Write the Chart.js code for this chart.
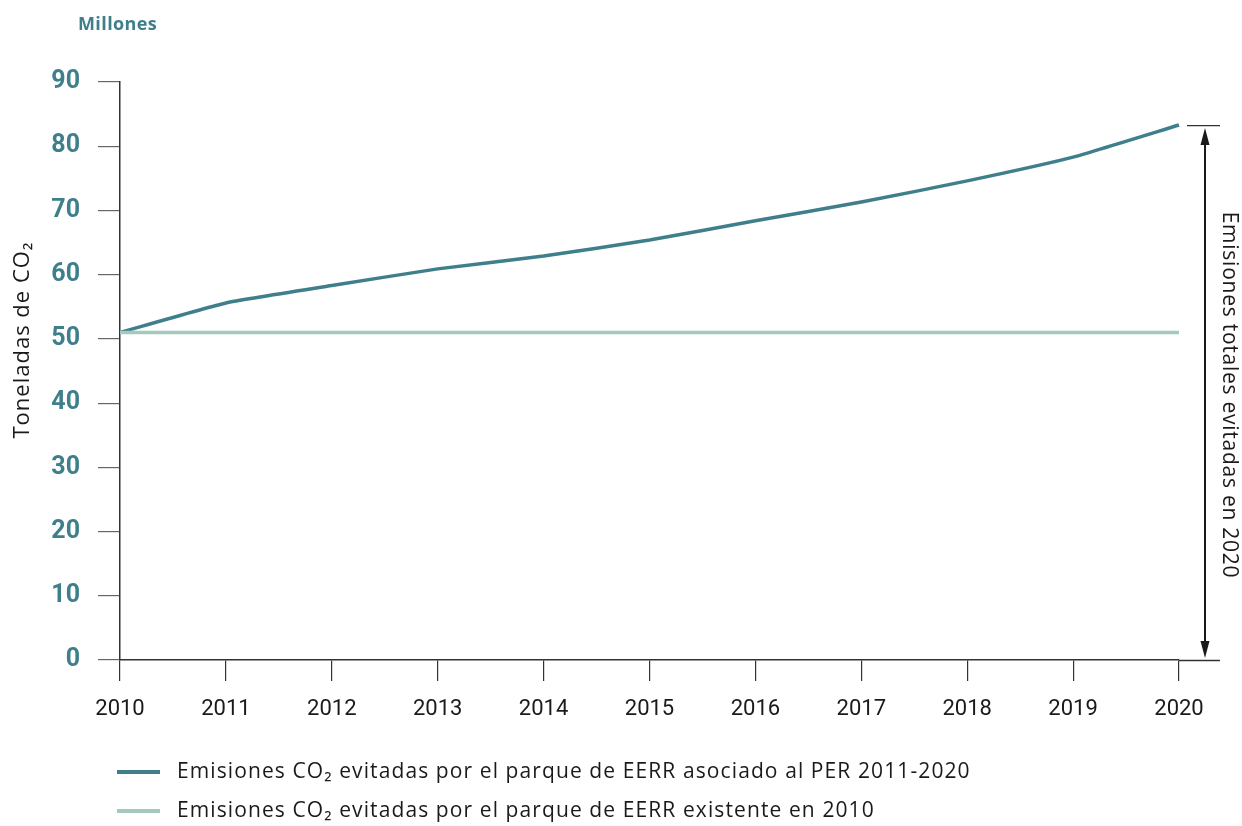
<!DOCTYPE html>
<html>
<head>
<meta charset="utf-8">
<script src="https://cdn.jsdelivr.net/npm/chart.js@4.4.1/dist/chart.umd.min.js"></script>
<style>
  html, body { margin: 0; padding: 0; background: #fff; }
  #wrap { width: 1242px; height: 826px; position: relative; }
</style>
</head>
<body>
<div id="wrap"><canvas id="c" width="1242" height="826"></canvas></div>
<script>
// data
const years = ["2010", "2011", "2012", "2013", "2014", "2015", "2016", "2017", "2018", "2019", "2020"];
const perValues = [51.0, 55.6, 58.3, 60.9, 62.9, 65.4, 68.4, 71.3, 74.6, 78.3, 83.3];
const baseValues = [51, 51, 51, 51, 51, 51, 51, 51, 51, 51, 51];
const seriesLabels = [
  "Emisiones CO\u2082 evitadas por el parque de EERR asociado al PER 2011-2020",
  "Emisiones CO\u2082 evitadas por el parque de EERR existente en 2010"
];
const yUnit = "Millones";
const yTitle = "Toneladas de CO\u2082";
const arrowLabel = "Emisiones totales evitadas en 2020";

const TEAL = "#3e7f8b";
const LIGHT = "#a4cabd";
const FONT = "Roboto, 'Open Sans', sans-serif";
const TFONT = "'Open Sans', Roboto, sans-serif";

// extras: unit label, y title, right-hand arrow, legend, x axis extension
const extras = {
  id: "extras",
  afterDraw(chart) {
    const { ctx, chartArea: a, scales } = chart;
    const y = scales.y;
    ctx.save();

    // unit label
    ctx.fillStyle = TEAL;
    ctx.font = "bold 18px " + TFONT;
    ctx.letterSpacing = "0.4px";
    ctx.textAlign = "left";
    ctx.textBaseline = "alphabetic";
    ctx.fillText(yUnit, 78, 30);

    // y title
    ctx.save();
    ctx.translate(23, 340);
    ctx.rotate(-Math.PI / 2);
    ctx.fillStyle = "#1a1a1a";
    ctx.font = "22px " + TFONT;
    ctx.letterSpacing = "1px";
    ctx.textAlign = "center";
    ctx.textBaseline = "middle";
    ctx.fillText(yTitle, 0, 0);
    ctx.restore();

    // x axis line extension
    ctx.strokeStyle = "#333";
    ctx.lineWidth = 1.5;
    ctx.beginPath();
    ctx.moveTo(a.right, a.bottom + 0.5);
    ctx.lineTo(1220, a.bottom + 0.5);
    ctx.stroke();

    // arrow: from top of last value to zero
    const topY = y.getPixelForValue(perValues[perValues.length - 1]);
    const botY = y.getPixelForValue(0);
    const ax = 1205;
    ctx.strokeStyle = "#333";
    ctx.lineWidth = 1.2;
    ctx.beginPath();
    ctx.moveTo(1187, topY + 0.5);
    ctx.lineTo(1220, topY + 0.5);
    ctx.stroke();
    ctx.strokeStyle = "#1a1a1a";
    ctx.lineWidth = 2;
    ctx.beginPath();
    ctx.moveTo(ax, topY + 14);
    ctx.lineTo(ax, botY - 14);
    ctx.stroke();
    ctx.fillStyle = "#1a1a1a";
    ctx.beginPath();
    ctx.moveTo(ax, topY + 3);
    ctx.lineTo(ax - 4.5, topY + 20);
    ctx.lineTo(ax + 4.5, topY + 20);
    ctx.closePath();
    ctx.fill();
    ctx.beginPath();
    ctx.moveTo(ax, botY - 2);
    ctx.lineTo(ax - 4.5, botY - 19);
    ctx.lineTo(ax + 4.5, botY - 19);
    ctx.closePath();
    ctx.fill();

    // rotated label right of arrow
    ctx.save();
    ctx.translate(1229, 395);
    ctx.rotate(Math.PI / 2);
    ctx.fillStyle = "#1a1a1a";
    ctx.font = "21px " + TFONT;
    ctx.letterSpacing = "0.75px";
    ctx.textAlign = "center";
    ctx.textBaseline = "middle";
    ctx.fillText(arrowLabel, 0, 0);
    ctx.restore();

    // legend
    const colors = [TEAL, LIGHT];
    const rows = [772, 811];
    ctx.font = "21px " + TFONT;
    ctx.letterSpacing = "1.1px";
    ctx.textAlign = "left";
    ctx.textBaseline = "middle";
    seriesLabels.forEach((t, i) => {
      ctx.strokeStyle = colors[i];
      ctx.lineWidth = 4;
      ctx.beginPath();
      ctx.moveTo(117, rows[i]);
      ctx.lineTo(160, rows[i]);
      ctx.stroke();
      ctx.fillStyle = "#1a1a1a";
      ctx.fillText(t, 177, rows[i]);
    });

    ctx.restore();
  }
};

new Chart(document.getElementById("c"), {
  type: "line",
  data: {
    labels: years,
    datasets: [
      { label: seriesLabels[1], data: baseValues, borderColor: LIGHT, borderWidth: 3.5, pointRadius: 0, tension: 0 },
      { label: seriesLabels[0], data: perValues, borderColor: TEAL, borderWidth: 3.5, pointRadius: 0, tension: 0.15 }
    ]
  },
  options: {
    responsive: false,
    animation: false,
    layout: { padding: { top: 82, right: 63, bottom: 0, left: 0 } },
    plugins: { legend: { display: false }, tooltip: { enabled: false } },
    scales: {
      x: {
        offset: false,
        grid: { drawOnChartArea: false, tickLength: 21, color: "#333", lineWidth: 1.2 },
        border: { color: "#333", width: 1.5 },
        ticks: { color: "#1a1a1a", font: { family: FONT, size: 22 }, padding: 15, maxRotation: 0 },
        afterFit(s) { s.height = 166; }
      },
      y: {
        min: 0, max: 90,
        grid: { drawOnChartArea: false, tickLength: 22, color: "#666", lineWidth: 1.2 },
        border: { color: "#333", width: 1.5 },
        ticks: { stepSize: 10, color: TEAL, font: { family: FONT, size: 25, weight: "bold" }, padding: 18 },
        afterFit(s) { s.width = 120; }
      }
    }
  },
  plugins: [extras]
});
</script>
</body>
</html>
